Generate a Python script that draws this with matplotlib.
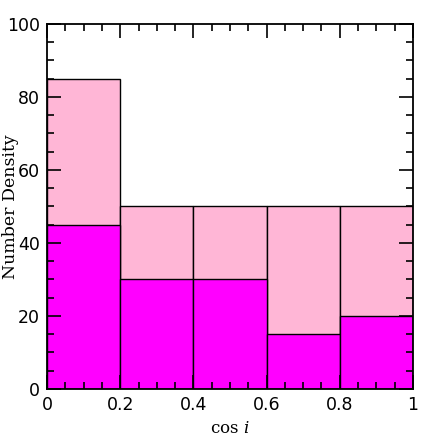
import numpy as np
import matplotlib.pyplot as plt
from matplotlib.ticker import MultipleLocator

# histogram of cos i: full sample and subset
bin_edges = [0.0, 0.2, 0.4, 0.6, 0.8, 1.0]
total_counts = [85, 50, 50, 50, 50]
subset_counts = [45, 30, 30, 15, 20]

plt.rcParams['font.family'] = ['DejaVu Sans']
plt.rcParams['mathtext.fontset'] = 'dejavuserif'

fig = plt.figure(figsize=(4.36, 4.36), dpi=100)
ax = fig.add_axes([0.108, 0.108, 0.839, 0.837])

lefts = np.array(bin_edges[:-1])
widths = np.diff(bin_edges)
ax.bar(lefts, total_counts, width=widths, align='edge',
       color='#ffb6d6', edgecolor='black', linewidth=1.0)
ax.bar(lefts, subset_counts, width=widths, align='edge',
       color='#ff00ff', edgecolor='black', linewidth=1.0)

ax.set_xlim(0, 1)
ax.set_ylim(0, 100)
ax.xaxis.set_major_locator(MultipleLocator(0.2))
ax.xaxis.set_minor_locator(MultipleLocator(0.05))
ax.yaxis.set_major_locator(MultipleLocator(20))
ax.yaxis.set_minor_locator(MultipleLocator(5))
ax.set_xticks([0, 0.2, 0.4, 0.6, 0.8, 1.0])
ax.set_xticklabels(['0', '0.2', '0.4', '0.6', '0.8', '1'])
ax.tick_params(which='both', direction='in', top=True, right=True, width=1.2)
ax.tick_params(which='major', length=10, labelsize=12.5, pad=5)
ax.tick_params(which='minor', length=5)
for s in ax.spines.values():
    s.set_linewidth(1.3)

ax.set_xlabel(r'cos $i$', fontsize=12, family='DejaVu Serif')
ax.set_ylabel('Number Density', fontsize=12.5, family='DejaVu Serif')
ax.xaxis.set_label_coords(0.5, -0.085, transform=ax.transAxes)
ax.yaxis.set_label_coords(-0.078, 0.5, transform=ax.transAxes)

plt.savefig('out.png', dpi=100)
